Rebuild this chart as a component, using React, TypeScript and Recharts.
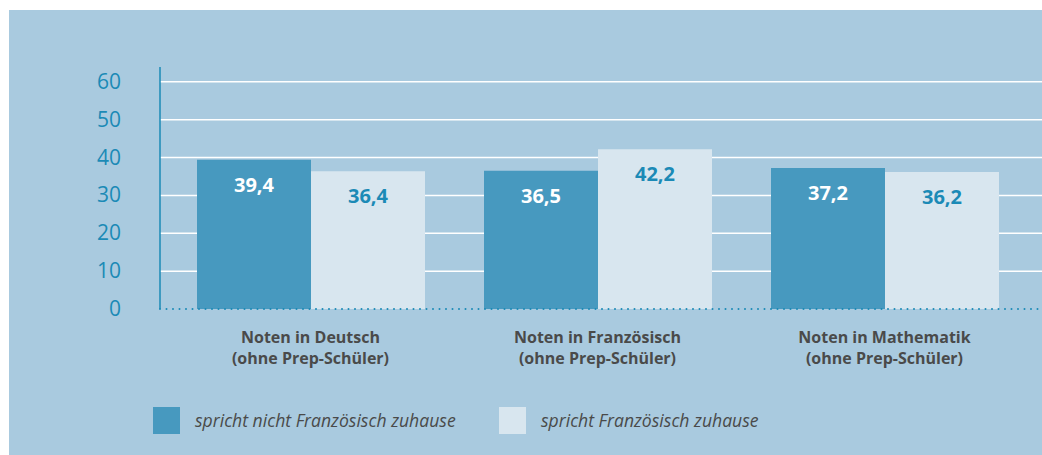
import { BarChart, Bar, XAxis, YAxis, CartesianGrid, LabelList } from 'recharts';

const categories = ['Noten in Deutsch', 'Noten in Französisch', 'Noten in Mathematik'];
const categorySub = ['(ohne Prep-Schüler)', '(ohne Prep-Schüler)', '(ohne Prep-Schüler)'];
const nichtFranz = [39.4, 36.5, 37.2];
const franz = [36.4, 42.2, 36.2];
const yTicks = [0, 10, 20, 30, 40, 50, 60];
const seriesNames = ['spricht nicht Französisch zuhause', 'spricht Französisch zuhause'];

const BG = '#a9cadf';
const DARK = '#4799bf';
const LIGHT = '#d8e6ef';
const AXIS = '#1b8ab6';
const TEXT = '#4a4a4a';
const FONT = '"Open Sans", "Noto Sans", sans-serif';

const data = categories.map((c, i) => ({
  name: c,
  sub: categorySub[i],
  a: nichtFranz[i],
  b: franz[i],
}));

const fmt = (v: number) => v.toFixed(1).replace('.', ',');

function YTick({ y, payload }: any) {
  return (
    <text x={121} y={y} dy={7} textAnchor="end" fill={AXIS} fontSize={21} fontFamily={FONT}>
      {payload.value}
    </text>
  );
}

function XTick({ x, y, payload, index }: any) {
  return (
    <g>
      <text x={x} y={y + 26} textAnchor="middle" fill={TEXT} fontSize={16} fontWeight={700} fontFamily={FONT}>
        {payload.value}
      </text>
      <text x={x} y={y + 47} textAnchor="middle" fill={TEXT} fontSize={16} fontWeight={700} fontFamily={FONT}>
        {categorySub[index]}
      </text>
    </g>
  );
}

const legendText = {
  position: 'absolute' as const,
  top: 407,
  lineHeight: '27px',
  fontSize: 17.6,
  fontStyle: 'italic',
  color: TEXT,
  fontFamily: FONT,
  whiteSpace: 'nowrap' as const,
};

export default function App() {
  return (
    <div style={{ position: 'relative', width: 1042, height: 455, overflow: 'hidden', background: '#ffffff' }}>
      <style>{'html, body { margin: 0; padding: 0; overflow: hidden; }'}</style>
      <div style={{ position: 'absolute', left: 9, top: 10, width: 1033, height: 445, background: BG }} />
      <div style={{ position: 'absolute', left: 0, top: 0 }}>
        <BarChart
          width={1042}
          height={455}
          data={data}
          margin={{ top: 67, right: 0, bottom: 86, left: 0 }}
          barGap={0}
          barSize={114}
        >
          <CartesianGrid
            vertical={false}
            stroke="#ffffff"
            strokeWidth={1.5}
            horizontalValues={[10, 20, 30, 40, 50, 60]}
          />
          <XAxis
            dataKey="name"
            padding={{ left: 7, right: 14 }}
            tickLine={false}
            tick={<XTick />}
            height={60}
            axisLine={{ stroke: AXIS, strokeWidth: 2, strokeDasharray: '0 6.5', strokeLinecap: 'round' }}
          />
          <YAxis
            width={160}
            domain={[0, 63.9]}
            ticks={yTicks}
            tickLine={false}
            tick={<YTick />}
            axisLine={{ stroke: AXIS, strokeWidth: 1.5 }}
          />
          <Bar dataKey="a" fill={DARK} isAnimationActive={false}>
            <LabelList
              dataKey="a"
              position="insideTop"
              offset={18}
              formatter={(v: any) => fmt(Number(v))}
              fill="#ffffff"
              fontSize={20}
              fontWeight={700}
              fontFamily={FONT}
            />
          </Bar>
          <Bar dataKey="b" fill={LIGHT} isAnimationActive={false}>
            <LabelList
              dataKey="b"
              position="insideTop"
              offset={18}
              formatter={(v: any) => fmt(Number(v))}
              fill={AXIS}
              fontSize={20}
              fontWeight={700}
              fontFamily={FONT}
            />
          </Bar>
        </BarChart>
      </div>
      <div style={{ position: 'absolute', left: 153, top: 407, width: 27, height: 27, background: DARK }} />
      <div style={{ ...legendText, left: 195 }}>{seriesNames[0]}</div>
      <div style={{ position: 'absolute', left: 499, top: 407, width: 27, height: 27, background: LIGHT }} />
      <div style={{ ...legendText, left: 541 }}>{seriesNames[1]}</div>
    </div>
  );
}
